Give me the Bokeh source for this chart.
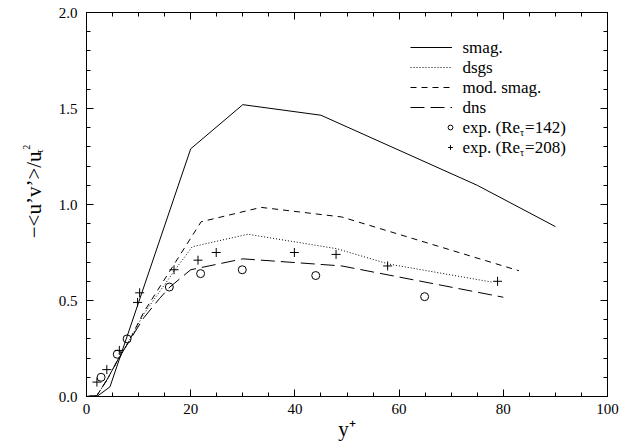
from math import pi
from bokeh.plotting import figure
from bokeh.layouts import row
from bokeh.models import (Range1d, LinearAxis, SingleIntervalTicker, NumeralTickFormatter,
                          CustomJSTickFormatter, Label, Legend, LegendItem)
from bokeh.embed import file_html
from bokeh.resources import INLINE

# ---------------- data ----------------
smag_x = [0, 2, 4.5, 20, 30, 45, 75, 90]
smag_y = [0, 0.0, 0.05, 1.29, 1.52, 1.465, 1.10, 0.885]

dsgs_x = [0, 2, 4, 6, 8, 11, 17, 20.3, 31, 48, 58, 78]
dsgs_y = [0, 0.005, 0.09, 0.19, 0.28, 0.43, 0.66, 0.78, 0.845, 0.77, 0.69, 0.595]

mod_x = [0, 2, 4, 6, 8, 11, 22, 33.5, 49, 83]
mod_y = [0, 0.005, 0.09, 0.19, 0.28, 0.44, 0.91, 0.985, 0.935, 0.655]

dns_x = [0, 2, 4, 6, 8, 11, 14, 16, 20, 30, 49, 80]
dns_y = [0, 0.005, 0.09, 0.19, 0.28, 0.41, 0.51, 0.57, 0.66, 0.717, 0.68, 0.517]

exp142_x = [2.8, 5.9, 7.8, 15.9, 21.9, 29.9, 44.0, 64.9]
exp142_y = [0.10, 0.22, 0.30, 0.57, 0.64, 0.66, 0.63, 0.52]

exp208_x = [2.0, 3.9, 6.3, 9.8, 10.2, 16.8, 21.4, 24.9, 39.9, 47.9, 57.8, 78.9]
exp208_y = [0.075, 0.14, 0.24, 0.49, 0.54, 0.66, 0.71, 0.75, 0.75, 0.74, 0.68, 0.60]

legend_labels = ["smag.", "dsgs", "mod. smag.", "dns"]
x_ticks_interval = 20
y_ticks_interval = 0.5

FONT = "Liberation Serif"
TICK_FS = "15px"
STRIP_W = 45

# ---------------- main plot ----------------
p = figure(width=622 - STRIP_W, height=445, output_backend="svg", toolbar_location=None,
           x_range=Range1d(0, 100), y_range=Range1d(0, 2),
           x_axis_location=None, y_axis_location=None,
           min_border_left=86 - STRIP_W, min_border_right=15, min_border_top=12,
           min_border_bottom=49)
p.xgrid.visible = False
p.ygrid.visible = False
p.outline_line_color = "black"
p.outline_line_width = 1
p.background_fill_color = "white"
p.border_fill_color = "white"


def style_axis(ax, show_labels):
    ax.axis_line_color = "black"
    ax.axis_line_width = 1
    ax.major_tick_in = 7
    ax.major_tick_out = 0
    ax.minor_tick_in = 4
    ax.minor_tick_out = 0
    ax.major_tick_line_color = "black"
    ax.minor_tick_line_color = "black"
    ax.major_label_text_font = FONT
    ax.major_label_text_font_size = TICK_FS
    ax.major_label_text_color = "black"
    if not show_labels:
        ax.formatter = CustomJSTickFormatter(code="return ''")
        ax.major_label_standoff = 0


xb = LinearAxis(ticker=SingleIntervalTicker(interval=x_ticks_interval, num_minor_ticks=4))
style_axis(xb, True)
xb.major_label_standoff = 7
xb.axis_label = "y⁺"
xb.axis_label_text_font = FONT
xb.axis_label_text_font_size = "21px"
xb.axis_label_text_font_style = "normal"
xb.axis_label_text_color = "black"
xb.axis_label_standoff = 0
xt = LinearAxis(ticker=SingleIntervalTicker(interval=x_ticks_interval, num_minor_ticks=4))
style_axis(xt, False)
yl = LinearAxis(ticker=SingleIntervalTicker(interval=y_ticks_interval, num_minor_ticks=5),
                formatter=NumeralTickFormatter(format="0.0"))
style_axis(yl, True)
yl.major_label_standoff = 9
yr = LinearAxis(ticker=SingleIntervalTicker(interval=y_ticks_interval, num_minor_ticks=5))
style_axis(yr, False)
p.add_layout(xb, "below")
p.add_layout(xt, "above")
p.add_layout(yl, "left")
p.add_layout(yr, "right")

# ---------------- curves ----------------
r_smag = p.line(smag_x, smag_y, line_color="black", line_width=1)
r_dsgs = p.line(dsgs_x, dsgs_y, line_color="black", line_width=1, line_dash="1 2")
r_mod = p.line(mod_x, mod_y, line_color="black", line_width=1, line_dash="6 5")
r_dns = p.line(dns_x, dns_y, line_color="black", line_width=1, line_dash="14 6")
r_e1 = p.scatter(exp142_x, exp142_y, marker="circle", size=8, fill_color=None,
                 line_color="black", line_width=1)
r_e2 = p.scatter(exp208_x, exp208_y, marker="cross", size=9,
                 line_color="black", line_width=1)

# ---------------- legend (glyph samples) ----------------
common = dict(padding=0, spacing=0, margin=0, glyph_height=20, label_height=20,
              label_width=0, label_standoff=0, border_line_color=None,
              background_fill_alpha=0)
leg_lines = Legend(items=[LegendItem(label="", renderers=[r]) for r in [r_smag, r_dsgs, r_mod, r_dns]],
                   location=(324, 279.5), glyph_width=42, **common)
leg_marks = Legend(items=[LegendItem(label="", renderers=[r]) for r in [r_e1, r_e2]],
                   location=(358, 239.5), glyph_width=12, **common)
p.add_layout(leg_lines)
p.add_layout(leg_marks)


# canvas pixel -> data helpers for annotation placement
def X(px):
    return (px - 86) / 5.21


def Y(py):
    return (396 - py) / 192.0


TXT = dict(text_font=FONT, text_color="black")
LEG_FS = 17
for i, txt in enumerate(legend_labels):
    p.add_layout(Label(x=X(462), y=Y(46.5 + 20 * i), text=txt,
                       text_font_size=f"{LEG_FS}px", text_baseline="middle", **TXT))

w_exp = 3.388 * LEG_FS
for i, num in enumerate(["142", "208"]):
    yy = Y(126.5 + 20 * i)
    p.add_layout(Label(x=X(462), y=yy, text="exp. (Re",
                       text_font_size=f"{LEG_FS}px", text_baseline="middle", **TXT))
    p.add_layout(Label(x=X(462), y=yy, x_offset=w_exp, y_offset=-5, text="τ",
                       text_font_size="10px", text_baseline="middle", **TXT))
    p.add_layout(Label(x=X(462), y=yy, x_offset=w_exp + 5, text=f"={num})",
                       text_font_size=f"{LEG_FS}px", text_baseline="middle", **TXT))

# ---------------- y-axis title strip (canvas pixel coordinates) ----------------
s = figure(width=STRIP_W, height=445, output_backend="svg", toolbar_location=None,
           x_range=Range1d(0, STRIP_W), y_range=Range1d(445, 0),
           x_axis_location=None, y_axis_location=None,
           min_border_left=0, min_border_right=0, min_border_top=0, min_border_bottom=0)
s.outline_line_color = None
s.grid.visible = False
s.background_fill_color = "white"
s.border_fill_color = "white"

YL_FS = 21
# main part anchored at its upper end so the indices sit right after the "u"
s.add_layout(Label(x=33, y=161, text="−<u’v’>/u", angle=pi / 2,
                   text_font_size=f"{YL_FS}px", text_align="right", text_baseline="alphabetic",
                   **TXT))
s.add_layout(Label(x=38.5, y=163, text="τ", angle=pi / 2,
                   text_font_size="10px", text_align="left", text_baseline="alphabetic", **TXT))
s.add_layout(Label(x=25.5, y=159, text="2", angle=pi / 2,
                   text_font_size="10px", text_align="left", text_baseline="alphabetic", **TXT))

layout = row(s, p, spacing=0)
open("out.html", "w").write(file_html(layout, INLINE))
